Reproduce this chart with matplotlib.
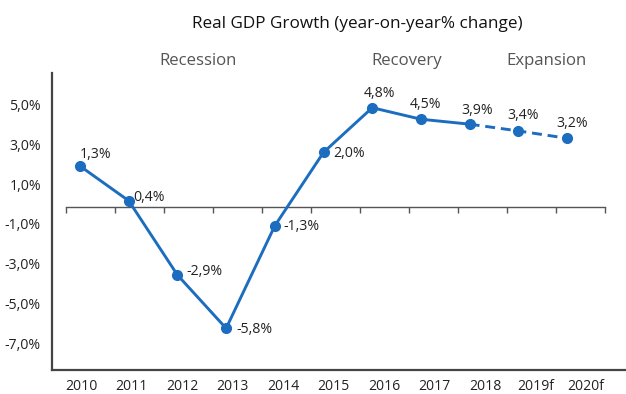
import matplotlib
matplotlib.use("Agg")
import matplotlib.pyplot as plt
import numpy as np

plt.rcParams['font.family'] = ['Open Sans', 'DejaVu Sans']

years = ['2010', '2011', '2012', '2013', '2014', '2015', '2016', '2017', '2018', '2019f', '2020f']
# plotted positions
growth = [1.92, 0.17, -3.57, -6.26, -1.09, 2.61, 4.86, 4.28, 4.03, 3.69, 3.32]
labels = ['1,3%', '0,4%', '-2,9%', '-5,8%', '-1,3%', '2,0%', '4,8%', '4,5%', '3,9%', '3,4%', '3,2%']
y_ticks = [5, 3, 1, -1, -3, -5, -7]
phases = ['Recession', 'Recovery', 'Expansion']

# label placement (pixel offsets and alignment)
offsets = [(16, 12, 'center'), (5, 3, 'left'), (9, 3, 'left'), (10, -1, 'left'),
           (9, -1, 'left'), (10, -1, 'left'), (7, 14, 'center'), (5, 15, 'center'),
           (8, 14, 'center'), (5, 15, 'center'), (5, 15, 'center')]

blue = '#1c6dbf'
dark = '#444444'

fig = plt.figure(figsize=(6.26, 3.94), dpi=100)
ax = fig.add_axes([52 / 626, 24 / 394, 1 - 52 / 626, 297 / 394])

x = np.arange(len(years))
n_solid = years.index('2018') + 1
ax.plot(x[:n_solid], growth[:n_solid], color=blue, lw=2.1, zorder=3)
ax.plot(x[n_solid - 1:], growth[n_solid - 1:], color=blue, lw=2.1, ls=(0, (3.4, 2.0)), zorder=3)
ax.plot(x, growth, 'o', color=blue, ms=7, zorder=4)

for xi, yi, lab, (dx, dy, ha) in zip(x, growth, labels, offsets):
    ax.annotate(lab, (xi, yi), xytext=(dx, dy), textcoords='offset pixels',
                ha=ha, va='center', fontsize=10.2, color='#222222')

# zero line with category separators
zero = -0.13
sep = -0.29 + 1.006 * np.arange(len(years) + 1)
ax.plot([sep[0], sep[-1]], [zero, zero], color='#555555', lw=1.0, zorder=2)
ax.vlines(sep, zero - 0.3, zero, color='#555555', lw=1.0, zorder=2)

ax.set_xlim(-0.575, 11.21)
ax.set_ylim(-8.36, 6.61)

ax.set_yticks(y_ticks)
ax.set_yticklabels([f'{v},0%' for v in y_ticks], fontsize=10.2, color='#222222')
ax.set_xticks(0.02 + 1.037 * x)
ax.set_xticklabels(years, fontsize=10.1, color='#222222')
ax.tick_params(axis='both', length=0)
ax.tick_params(axis='y', pad=8)
ax.tick_params(axis='x', pad=6.5)

for s in ['top', 'right']:
    ax.spines[s].set_visible(False)
for s in ['left', 'bottom']:
    ax.spines[s].set_color(dark)
    ax.spines[s].set_linewidth(1.6)

fig.text(357 / 626, 1 - 24 / 394, 'Real GDP Growth (year-on-year% change)',
         ha='center', va='center', fontsize=12.3, color='#111111')
for name, px in zip(phases, [198, 407, 547]):
    fig.text(px / 626, 1 - 61 / 394, name, ha='center', va='center',
             fontsize=12.1, color='#555555')

fig.savefig('out.png', dpi=100)
plt.close(fig)
